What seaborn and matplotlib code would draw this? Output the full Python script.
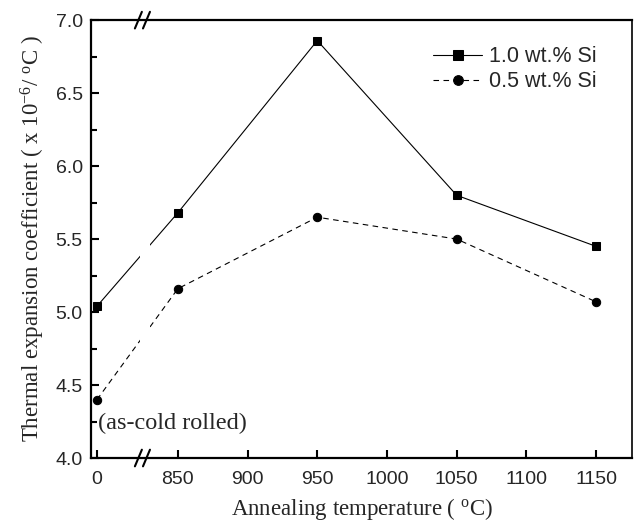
import matplotlib

matplotlib.use("Agg")
import matplotlib.pyplot as plt
import matplotlib.transforms as mtransforms
import pandas as pd
import seaborn as sns
from matplotlib.ticker import FormatStrFormatter, MultipleLocator

""" Thermal expansion coefficient vs annealing temperature (broken x axis) """

temperatures = [0, 850, 950, 1050, 1150]
si_10 = [5.04, 5.68, 6.86, 5.80, 5.45]
si_05 = [4.40, 5.16, 5.65, 5.50, 5.07]
series_names = ["1.0 wt.% Si", "0.5 wt.% Si"]
x_tick_values = [0, 850, 900, 950, 1000, 1050, 1100, 1150]
x_tick_labels = ["0", "850", "900", "950", "1000", "1050", "1100", "1150"]

# the as-rolled point (0) is placed left of the axis break
ZERO_POS = 792
BREAK_POS = 825


def _to_pos(t):
    return ZERO_POS if t == 0 else t


def _build_frame() -> pd.DataFrame:
    rows = []
    for name, values in zip(series_names, [si_10, si_05]):
        for t, v in zip(temperatures, values):
            rows.append({"pos": _to_pos(t), "value": v, "series": name})
    return pd.DataFrame(rows)


def plot_data() -> None:
    sns.set_style("ticks")
    plt.rcParams["font.family"] = ["Liberation Sans", "DejaVu Sans"]
    plt.rcParams["mathtext.fontset"] = "custom"
    plt.rcParams["mathtext.rm"] = "Liberation Serif"
    plt.rcParams["mathtext.it"] = "Liberation Serif:italic"
    serif = ["Liberation Serif", "DejaVu Serif"]

    df = _build_frame()
    fig = plt.figure(figsize=(6.34, 5.30), dpi=100)
    ax = fig.add_axes([0.1435, 0.1358, 0.8535, 0.8262])

    sns.lineplot(
        data=df,
        x="pos",
        y="value",
        style="series",
        markers={series_names[0]: "s", series_names[1]: "o"},
        dashes={series_names[0]: "", series_names[1]: (5, 4)},
        color="black",
        linewidth=0.8,
        markersize=6,
        markeredgecolor="black",
        ax=ax,
    )

    # gap in the lines at the axis break
    ax.axvspan(BREAK_POS - 2, BREAK_POS + 5, ymin=0.01, ymax=0.99,
               color="white", zorder=2.2, lw=0)

    ax.set_xlim(787.7, 1175.8)
    ax.set_ylim(4.0, 7.0)
    ax.set_xticks([_to_pos(t) for t in x_tick_values])
    ax.set_xticklabels(x_tick_labels)
    ax.yaxis.set_major_locator(MultipleLocator(0.5))
    ax.yaxis.set_minor_locator(MultipleLocator(0.25))
    ax.yaxis.set_major_formatter(FormatStrFormatter("%.1f"))
    ax.tick_params(axis="both", which="both", direction="in", labelsize=14,
                   width=1.5, color="black")
    ax.tick_params(axis="both", which="major", length=6)
    ax.tick_params(axis="y", which="major", pad=6)
    ax.tick_params(axis="x", which="major", pad=9)
    ax.tick_params(axis="y", which="minor", length=4)
    ax.tick_params(axis="x", which="minor", bottom=False)

    for side, spine in ax.spines.items():
        spine.set_visible(True)
        spine.set_color("black")
        spine.set_linewidth(1.6 if side in ("left", "bottom", "top") else 1.2)

    # break marks "//" on top and bottom spines
    trans = mtransforms.blended_transform_factory(ax.transData, ax.transAxes)
    for y0 in (0.0, 1.0):
        for dx in (0.0, 5.8):
            ax.plot([BREAK_POS - 5.8 + dx, BREAK_POS - 0.8 + dx],
                    [y0 - 0.019, y0 + 0.019],
                    transform=trans, color="black", lw=1.5,
                    clip_on=False, zorder=5)

    ax.text(_to_pos(0) + 0.5, 4.24, "(as-cold rolled)", fontsize=17.5,
            family=serif, ha="left", va="center")

    ax.set_xlabel("Annealing temperature ( $^{\\mathrm{o}}$C)",
                  fontsize=16.5, family=serif, labelpad=6)
    ax.set_ylabel("Thermal expansion coefficient ( x 10$^{-6}$/ $^{\\mathrm{o}}$C )",
                  fontsize=16.5, family=serif, labelpad=6)

    leg = ax.legend(loc="upper right", bbox_to_anchor=(0.97, 0.985),
                    frameon=False, fontsize=15.5, handlelength=2.3,
                    handletextpad=0.3, labelspacing=0.2, title=None)
    for h in leg.legend_handles:
        h.set_markersize(7)

    fig.savefig("out.png", dpi=100)


if __name__ == "__main__":
    plot_data()
